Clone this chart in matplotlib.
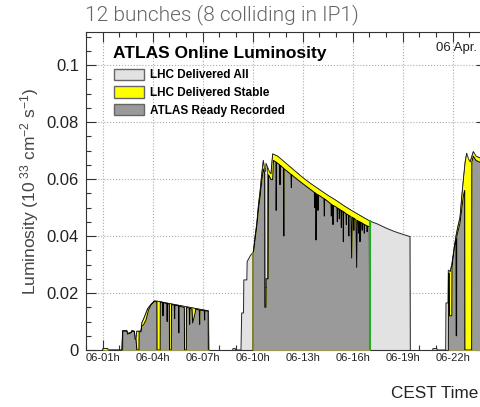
import numpy as np
import matplotlib
matplotlib.use("Agg")
import matplotlib.pyplot as plt
from matplotlib.patches import Patch
from matplotlib.ticker import FixedLocator, MultipleLocator

plt.rcParams['font.family'] = ['Liberation Sans', 'DejaVu Sans']
plt.rcParams['mathtext.fontset'] = 'custom'
plt.rcParams['mathtext.rm'] = 'Liberation Sans'
plt.rcParams['mathtext.it'] = 'Liberation Sans:italic'

# time in hours on 06 Apr, luminosity in 1e33 cm-2 s-1
# --- fill 1 ---
f1_all_t = [1.0, 1.02, 1.3, 1.32, 2.15, 2.2, 2.45, 2.5, 2.7, 2.75, 2.9, 2.95, 3.0, 3.05, 3.3, 3.35,
            3.5, 3.7, 3.9, 4.1, 4.3, 5.0, 6.0, 7.0, 7.35, 7.37]
f1_all_L = [0, 0.0005, 0.0005, 0, 0, 0.0068, 0.0068, 0.0058, 0.0062, 0.0068, 0.0066, 0.004, 0.004, 0.0066,
            0.0066, 0.0095, 0.0115, 0.0145, 0.016, 0.0172, 0.0171, 0.0163, 0.0152, 0.0141, 0.0137, 0]
f1_rec_t = [2.2, 2.21, 2.45, 2.5, 2.7, 2.75, 2.9, 2.95, 3.0, 3.05, 3.18, 3.19, 3.3, 3.35, 3.45, 3.6, 3.75,
            3.9, 4.1, 4.25, 4.26, 4.45, 4.46, 4.6, 4.62, 4.64, 4.85, 4.87, 4.89, 5.0, 5.01, 5.12, 5.13,
            5.3, 5.32, 5.34, 5.55, 5.57, 5.59, 5.9, 5.91, 6.02, 6.03, 6.2, 6.22, 6.24, 6.36, 6.4, 6.55,
            6.58, 6.8, 6.82, 6.84, 7.1, 7.12, 7.14, 7.33, 7.34]
f1_rec_L = [0, 0.0066, 0.0066, 0.0056, 0.006, 0.0066, 0.0064, 0.0038, 0.0038, 0, 0, 0.0064, 0.0064,
            0.0085, 0.0088, 0.0105, 0.014, 0.0158, 0.017, 0.0169, 0, 0, 0.0168, 0.0166, 0.012, 0.0166,
            0.0163, 0.010, 0.0163, 0.016, 0, 0, 0.016, 0.0157, 0.011, 0.0157, 0.0155, 0.006, 0.0154,
            0.0149, 0, 0, 0.0149, 0.0147, 0.009, 0.0146, 0.0144, 0.0095, 0.013, 0.0143, 0.014, 0.009,
            0.014, 0.0138, 0.0105, 0.0138, 0.0136, 0]

# --- fill 2 ---
f2_all_t = [8.8, 8.82, 8.95, 8.97, 9.3, 9.34, 9.45, 9.47, 9.65, 9.67, 9.85, 10.05, 10.15, 10.25, 10.35,
            10.45, 10.55, 10.64, 10.7, 10.78, 10.8, 10.92, 11.0, 11.1, 11.2, 11.5, 12.0, 12.5, 13.0,
            13.5, 14.0, 14.5, 15.0, 15.5, 16.0, 16.5, 17.04, 17.5, 18.0, 18.5, 19.0, 19.44, 19.46]
f2_all_L = [0, 0.0005, 0.0005, 0, 0, 0.013, 0.013, 0.0246, 0.0246, 0.031, 0.033, 0.0345, 0.04, 0.0445,
            0.051, 0.056, 0.062, 0.0665, 0.064, 0.0626, 0.0655, 0.0638, 0.0625, 0.0618, 0.0688, 0.068,
            0.0655, 0.063, 0.0605, 0.0583, 0.0563, 0.0543, 0.0525, 0.0505, 0.0487, 0.047, 0.0452,
            0.0442, 0.0428, 0.0416, 0.0406, 0.0398, 0]
f2_stb_t = [10.0, 10.01, 10.05, 10.15, 10.25, 10.35, 10.45, 10.55, 10.64, 10.7, 10.72, 10.73, 10.88,
            10.89, 10.92, 11.0, 11.1, 11.2, 11.5, 12.0, 12.5, 13.0, 13.5, 14.0, 14.5, 15.0, 15.5, 16.0,
            16.5, 17.04, 17.05]
f2_stb_L = [0, 0.0344, 0.0345, 0.04, 0.0445, 0.051, 0.056, 0.062, 0.0665, 0.064, 0.0635, 0.022, 0.022,
            0.064, 0.0638, 0.0625, 0.0618, 0.0688, 0.068, 0.0655, 0.063, 0.0605, 0.0583, 0.0563,
            0.0543, 0.0525, 0.0505, 0.0487, 0.047, 0.0452, 0]
f2_rec_t = [10.02, 10.03, 10.15, 10.25, 10.35, 10.45, 10.55, 10.64, 10.72, 10.73, 10.8, 10.81, 10.93,
            10.95, 11.1, 11.2, 11.25, 11.4, 11.41, 11.43, 11.62, 11.64, 11.66, 11.85, 11.87, 11.89,
            12.3, 12.32, 12.34, 12.5, 13.0, 13.5, 13.7, 13.72, 13.74, 13.78, 13.8, 13.83, 13.9, 13.92,
            13.94, 14.0, 14.28, 14.3, 14.32, 14.5, 14.7, 14.72, 14.74, 14.8, 14.82, 14.84, 15.0, 15.06,
            15.08, 15.1, 15.18, 15.2, 15.22, 15.3, 15.32, 15.34, 15.42, 15.44, 15.46, 15.6, 15.62, 15.64,
            15.75, 15.77, 15.79, 15.9, 15.94, 15.98, 16.05, 16.07, 16.09, 16.2, 16.24, 16.28, 16.34,
            16.36, 16.38, 16.42, 16.44, 16.46, 16.55, 16.57, 16.59, 16.68, 16.7, 16.72, 16.85, 16.87,
            16.89, 17.0, 17.02]
f2_rec_L = [0, 0.0335, 0.039, 0.0435, 0.0495, 0.054, 0.0595, 0.0635, 0.062, 0.015, 0.015, 0.025,
            0.025, 0.0615, 0.0598, 0.0598, 0.0665, 0.066, 0.049, 0.0658, 0.065, 0.058, 0.0648, 0.0638,
            0.040, 0.0636, 0.0616, 0.057, 0.0615, 0.0607, 0.0584, 0.0562, 0.0553, 0.050, 0.0552, 0.055,
            0.0386, 0.0548, 0.0545, 0.049, 0.0544, 0.0542, 0.0531, 0.047, 0.053, 0.0522, 0.0512, 0.047,
            0.0511, 0.0508, 0.044, 0.0507, 0.0502, 0.0499, 0.045, 0.0498, 0.0495, 0.046, 0.0494, 0.049,
            0.043, 0.0489, 0.0486, 0.038, 0.0485, 0.0478, 0.044, 0.0477, 0.0473, 0.040, 0.0472, 0.0468,
            0.0323, 0.0466, 0.0463, 0.042, 0.0462, 0.0457, 0.029, 0.0455, 0.0452, 0.041, 0.0451, 0.045,
            0.038, 0.0449, 0.0446, 0.042, 0.0445, 0.0441, 0.041, 0.044, 0.0436, 0.0415, 0.0435, 0.0432,
            0]
f2_stable_start = 10.0
f2_stable_end = 17.04

# --- fill 3 ---
f3_all_t = [20.8, 20.82, 21.05, 21.07, 21.58, 21.6, 21.72, 21.74, 21.85, 21.95, 22.1, 22.2, 22.3, 22.44,
            22.55, 22.64, 22.75, 22.84, 22.95, 23.05, 23.24, 23.4, 23.6, 24.0]
f3_all_L = [0, 0.0005, 0.0005, 0, 0, 0.0165, 0.0165, 0.028, 0.0275, 0.03, 0.036, 0.040, 0.043, 0.0465,
            0.054, 0.0596, 0.066, 0.069, 0.067, 0.066, 0.0696, 0.068, 0.0675, 0.066]
f3_rec_t = [21.74, 21.75, 21.8, 21.81, 21.95, 21.96, 22.1, 22.2, 22.21, 22.24, 22.25, 22.44, 22.64,
            22.72, 22.73, 23.14, 23.15, 23.24, 23.4, 23.6, 24.0]
f3_rec_L = [0, 0.027, 0.027, 0.012, 0.012, 0.029, 0.036, 0.039, 0.005, 0.005, 0.040, 0.0445, 0.054,
            0.056, 0, 0, 0.066, 0.068, 0.0665, 0.066, 0.0645]

tick_hours = [1, 4, 7, 10, 13, 16, 19, 22]
tick_labels = ["06-01h", "06-04h", "06-07h", "06-10h", "06-13h", "06-16h", "06-19h", "06-22h"]
y_ticks = [0, 0.02, 0.04, 0.06, 0.08, 0.1]
y_labels = ["0", "0.02", "0.04", "0.06", "0.08", "0.1"]

c_all = "#e2e2e2"
c_stb = "#ffff00"
c_rec = "#9a9a9a"

fig = plt.figure(figsize=(4.8, 4.07), dpi=100)
ax = fig.add_axes([86 / 480, 57 / 407, 400 / 480, 318 / 407])
ax.set_axisbelow(True)

fills = [
    (f1_all_t, f1_all_L, f1_all_t, f1_all_L, f1_rec_t, f1_rec_L),
    (f2_all_t, f2_all_L, f2_stb_t, f2_stb_L, f2_rec_t, f2_rec_L),
    (f3_all_t, f3_all_L, f3_all_t[7:], f3_all_L[7:], f3_rec_t, f3_rec_L),
]
for at, aL, st, sL, rt, rL in fills:
    ax.fill_between(at, aL, color=c_all, lw=0, zorder=2)
    ax.plot(at, aL, color="#222", lw=0.7, zorder=2.1)
    ax.fill_between(st, sL, color=c_stb, lw=0, zorder=3)
    ax.plot(st, sL, color="#222", lw=0.5, zorder=3.1)
    ax.fill_between(rt, rL, color=c_rec, lw=0, zorder=4)
    ax.plot(rt, rL, color="k", lw=0.7, zorder=4.1)

# stable beam start / end markers of fill 2
ax.plot([f2_stable_start] * 2, [0, np.interp(f2_stable_start, f2_all_t, f2_all_L)],
        color="#8a8a20", lw=1.3, zorder=5)
ax.plot([f2_stable_end] * 2, [0, np.interp(f2_stable_end, f2_all_t, f2_all_L)],
        color="#1faa1f", lw=1.5, zorder=5)

ax.set_xlim(0, 24)
ax.set_ylim(0, 0.1116)
ax.xaxis.set_major_locator(FixedLocator(tick_hours))
ax.xaxis.set_minor_locator(MultipleLocator(1))
ax.set_xticklabels(tick_labels)
ax.yaxis.set_major_locator(FixedLocator(y_ticks))
ax.yaxis.set_minor_locator(MultipleLocator(0.005))
ax.set_yticklabels(y_labels)
ax.tick_params(which="both", direction="in", top=True, right=True, color="#333", width=0.8)
ax.tick_params(which="major", length=7)
ax.tick_params(which="minor", length=3.5)
ax.tick_params(axis="x", labelsize=8, pad=2, labelcolor="#222")
ax.tick_params(axis="y", labelsize=12, pad=5, labelcolor="#222")
ax.grid(True, which="major", ls=":", color="#aaa", lw=0.8)
for s in ax.spines.values():
    s.set_linewidth(0.8)
    s.set_color("#333")

ax.set_ylabel(r"Luminosity (10$^{\ 33}$ cm$^{-2}$ s$^{-1}$)", fontsize=12.5, color="#444", labelpad=4)

ax.text(0.0675, 0.931, "ATLAS Online Luminosity", transform=ax.transAxes, fontsize=12.5,
        fontweight="bold", ha="left", va="center")
handles = [Patch(facecolor=c_all, edgecolor="#666", lw=1.0),
           Patch(facecolor=c_stb, edgecolor="#666", lw=1.0),
           Patch(facecolor=c_rec, edgecolor="#666", lw=1.0)]
ax.legend(handles, ["LHC Delivered All", "LHC Delivered Stable", "ATLAS Ready Recorded"],
          loc="upper left", bbox_to_anchor=(0.07, 0.885), frameon=False, borderpad=0,
          borderaxespad=0, handlelength=2.55, handleheight=1.1, labelspacing=0.43,
          handletextpad=0.5, prop={"weight": "bold", "size": 8.5})

fig.text(85 / 480, 1 - 15 / 407, "12 bunches (8 colliding in IP1)", fontsize=15, color="#666",
         ha="left", va="center", family="Roboto", fontweight=300)
fig.text(477 / 480, 1 - 48 / 407, "06 Apr.", fontsize=9.5, ha="right", va="center", color="#222")
fig.text(478 / 480, 1 - 393 / 407, "CEST Time", fontsize=12.3, ha="right", va="center", color="#222")

fig.savefig("out.png", dpi=100)
